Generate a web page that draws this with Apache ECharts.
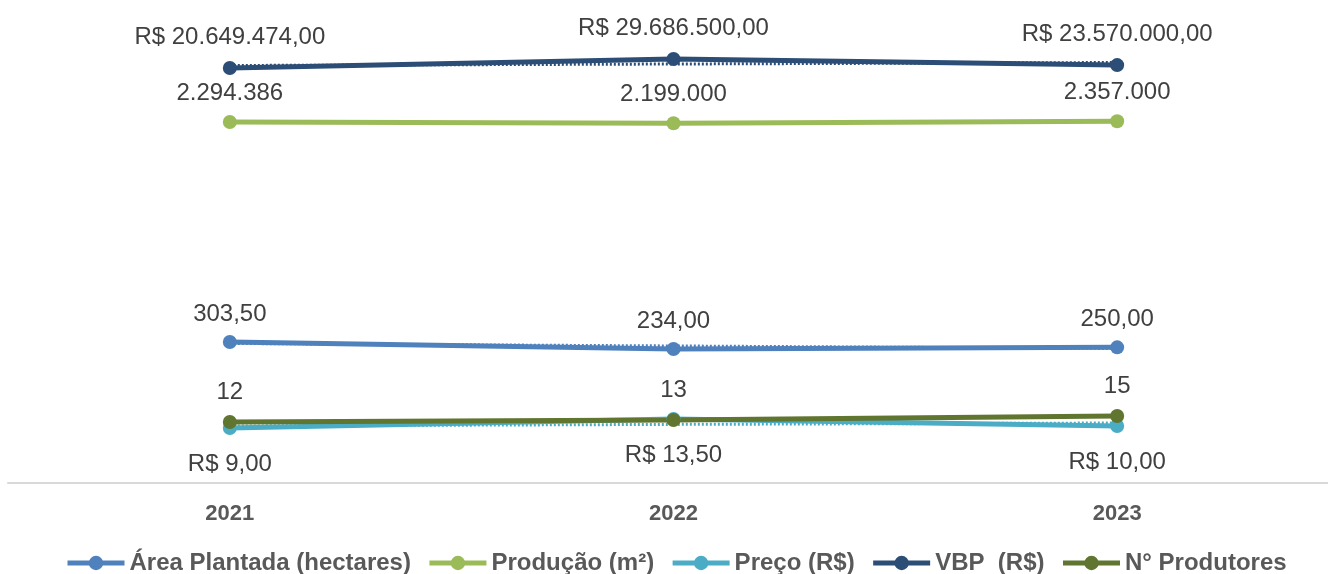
<!DOCTYPE html>
<html>
<head>
<meta charset="utf-8">
<script src="https://cdn.jsdelivr.net/npm/echarts@6/dist/echarts.min.js"></script>
<style>
  html, body { margin: 0; padding: 0; background: #fff; }
  #main { width: 1328px; height: 574px; }
</style>
</head>
<body>
<div id="main"></div>
<script>
// dados
var anos = ['2021', '2022', '2023'];
var areaPlantada = [303.5, 234, 250];
var producao = [2294386, 2199000, 2357000];
var preco = [9, 13.5, 10];
var vbp = [20649474, 29686500, 23570000];
var produtores = [12, 13, 15];

// linhas de tendência pontilhadas (estimadas a partir da imagem)
var tendArea = [289, 264, 239];
var tendPreco = [10, 10.8, 11.5];
var tendVbp = [23160000, 24660000, 26170000];

var fonte = 'Liberation Sans, Arial, sans-serif';
var nomes = ['Área Plantada (hectares)', 'Produção (m²)', 'Preço (R$)', 'VBP  (R$)', 'N° Produtores'];

// formato pt-BR: 1.234.567,89
function fmtBR(v, casas){
  var s = v.toFixed(casas);
  var partes = s.split('.');
  var inteiro = partes[0].replace(/\B(?=(\d{3})+(?!\d))/g, '.');
  return partes.length > 1 ? inteiro + ',' + partes[1] : inteiro;
}

function serie(nome, dados, cor, eixo, formatter, pos, dist){
  return {
    name: nome,
    type: 'line',
    yAxisIndex: eixo,
    data: dados,
    z: 3,
    symbol: 'circle',
    symbolSize: 14,
    lineStyle: { width: 5, color: cor },
    itemStyle: { color: cor },
    label: {
      show: true,
      position: pos,
      distance: dist,
      fontFamily: fonte,
      fontSize: 24,
      color: '#404040',
      formatter: function(p){ return formatter(p.value); }
    }
  };
}

function tendencia(dados, cor, eixo){
  return {
    name: 'tend',
    type: 'line',
    yAxisIndex: eixo,
    data: dados,
    z: 2,
    symbol: 'none',
    silent: true,
    lineStyle: { width: 3, color: cor, type: [2, 2] }
  };
}

var option = {
  animation: false,
  grid: { left: 8, width: 1331, top: 0, bottom: 91, outerBoundsMode: 'none' },
  legend: {
    data: nomes,
    top: 546,
    left: 60,
    itemWidth: 57,
    itemHeight: 18,
    itemGap: 16,
    lineStyle: { width: 5 },
    textStyle: { fontFamily: fonte, fontSize: 24, fontWeight: 'bold', color: '#595959' }
  },
  xAxis: {
    type: 'category',
    data: anos,
    axisTick: { show: false },
    axisLine: { onZero: false, lineStyle: { color: '#d9d9d9', width: 2 } },
    axisLabel: { margin: 20, fontFamily: fonte, fontSize: 22, fontWeight: 'bold', color: '#595959' }
  },
  // cada série tem sua própria escala (eixos ocultos)
  yAxis: [
    { type: 'value', show: false, min: -1097, max: 3700 },
    { type: 'value', show: false, min: -26585614, max: 12054386 },
    { type: 'value', show: false, min: -18.5, max: 223 },
    { type: 'value', show: false, min: -396000000, max: 88920000 }
  ],
  series: [
    serie(nomes[0], areaPlantada, '#4f81bd', 0, function(v){ return fmtBR(v, 2); }, 'top', 9),
    serie(nomes[1], producao, '#9bbb59', 1, function(v){ return fmtBR(v, 0); }, 'top', 10),
    serie(nomes[2], preco, '#4bacc6', 2, function(v){ return 'R$ ' + fmtBR(v, 2); }, 'bottom', 17),
    serie(nomes[3], vbp, '#2c4d75', 3, function(v){ return 'R$ ' + fmtBR(v, 2); }, 'top', 12),
    serie(nomes[4], produtores, '#5f7530', 2, function(v){ return fmtBR(v, 0); }, 'top', 11),
    tendencia(tendArea, '#4f81bd', 0),
    tendencia(tendPreco, '#4bacc6', 2),
    tendencia(tendVbp, '#2c4d75', 3)
  ]
};

var chart = echarts.init(document.getElementById('main'));
chart.setOption(option);
window.addEventListener('resize', function(){ chart.resize(); });
</script>
</body>
</html>
